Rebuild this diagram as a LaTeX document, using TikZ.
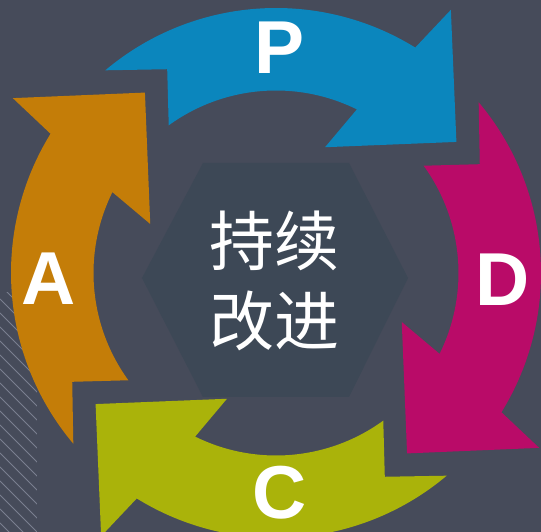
\documentclass[tikz,border=0pt]{standalone}
\usepackage{fontspec}
\setmainfont{Liberation Sans}
\newfontfamily\cjkfont{Noto Sans CJK SC}
\usepackage{tikz}

\definecolor{bgslate}{HTML}{464B5A}
\definecolor{hexfill}{HTML}{3D4856}
\definecolor{stripegray}{HTML}{7A7F90}
\definecolor{pblue}{HTML}{0B86BD}
\definecolor{dmagenta}{HTML}{B90B68}
\definecolor{cgreen}{HTML}{AAB30A}
\definecolor{aorange}{HTML}{C47D08}

\begin{document}
\begin{tikzpicture}[x=1pt, y=1pt,
    letter/.style={text=white, inner sep=0pt, font=\bfseries\fontsize{75}{75}\selectfont},
    stripe/.style={stripegray, line width=0.8pt}]
            \fill[bgslate] (-276,-259) rectangle (265,273);
            \useasboundingbox (-276,-259) rectangle (265,273);

            % stripes in the lower left corner
            \begin{scope}
                \clip (-276,-20) rectangle (-239,-259);
                \foreach \y in {-12,-26,...,-300}
                    \draw[stripe] (-276,\y) -- (-226,\y-50);
            \end{scope}

            % centre hexagon
            \fill[hexfill] (-73,110) -- (73,110) -- (132,-5) -- (73,-124)
                -- (-73,-124) -- (-134,-5) -- cycle;

            % the four arrows, P at the top, turned by 90 each
            \fill[pblue] (130.1:265pt) arc[start angle=130.1, end angle=58.3, radius=265pt]
                -- (56.4:316pt) -- (36:223pt) -- (68.7:135pt)
                -- (63.7:182.5pt) arc[start angle=63.7, end angle=126, radius=182.5pt]
                -- (118.1:231pt) -- cycle;
            \fill[dmagenta, rotate=-90] (130.1:265pt) arc[start angle=130.1, end angle=58.3, radius=265pt]
                -- (56.4:316pt) -- (36:223pt) -- (68.7:135pt)
                -- (63.7:182.5pt) arc[start angle=63.7, end angle=126, radius=182.5pt]
                -- (118.1:231pt) -- cycle;
            \fill[cgreen, rotate=180] (130.1:265pt) arc[start angle=130.1, end angle=58.3, radius=265pt]
                -- (56.4:316pt) -- (36:223pt) -- (68.7:135pt)
                -- (63.7:182.5pt) arc[start angle=63.7, end angle=126, radius=182.5pt]
                -- (118.1:231pt) -- cycle;
            \fill[aorange, rotate=90] (130.1:265pt) arc[start angle=130.1, end angle=58.3, radius=265pt]
                -- (56.4:316pt) -- (36:223pt) -- (68.7:135pt)
                -- (63.7:182.5pt) arc[start angle=63.7, end angle=126, radius=182.5pt]
                -- (118.1:231pt) -- cycle;

            \node[letter] (plan) at (4,225) {P};
            \node[letter] (do) at (227,-7) {D};
            \node[letter] (check) at (4,-220) {C};
            \node[letter] (act) at (-227,-6) {A};

            \node[text=white, align=center, inner sep=0pt,
                font=\cjkfont\fontsize{65}{80}\selectfont] (title) at (-1,-8) {持续\\改进};
        \end{tikzpicture}
\end{document}
